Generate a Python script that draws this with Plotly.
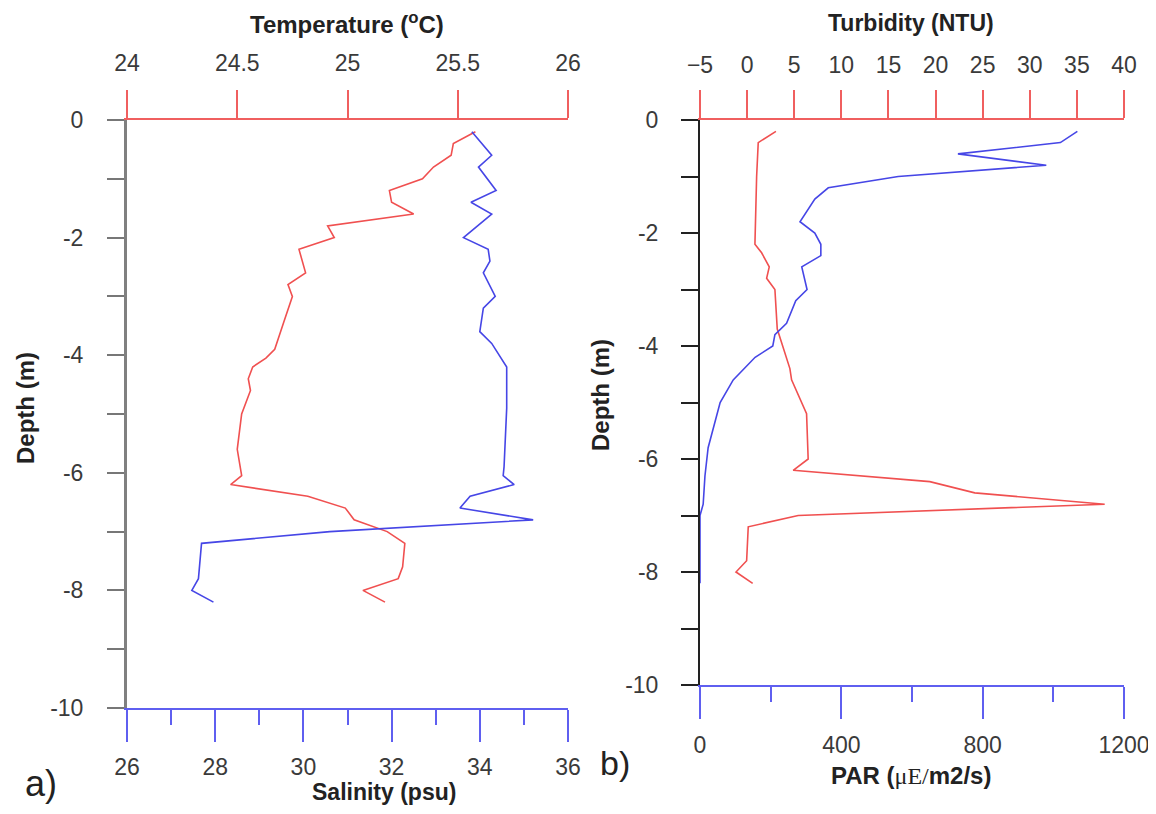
import plotly.graph_objects as go

# page body has an 8px margin; figure placed so that its pixels line up with the window
OFF = 8
W, H = 1156 - OFF, 814 - 2 * OFF

# ---------------- data ----------------
temp_depth = [-0.2, -0.4, -0.6, -0.8, -1.0, -1.2, -1.4, -1.6, -1.8, -2.0, -2.2, -2.6, -2.8, -3.0,
              -3.45, -3.9, -4.05, -4.2, -4.4, -4.6, -5.0, -5.6, -6.05, -6.2, -6.4, -6.6, -6.8,
              -7.0, -7.2, -7.6, -7.8, -8.0, -8.2]
temp_vals = [25.58, 25.48, 25.47, 25.39, 25.34, 25.19, 25.20, 25.30, 24.91, 24.94, 24.78, 24.81,
             24.73, 24.75, 24.71, 24.67, 24.63, 24.57, 24.55, 24.56, 24.52, 24.50, 24.52, 24.47,
             24.82, 24.99, 25.03, 25.18, 25.26, 25.25, 25.23, 25.07, 25.17]

sal_depth = [-0.2, -0.6, -0.8, -1.2, -1.4, -1.6, -2.0, -2.2, -2.4, -2.6, -3.0, -3.2, -3.6, -3.8,
             -4.2, -4.9, -5.9, -6.05, -6.2, -6.4, -6.6, -6.8, -7.0, -7.2, -7.8, -8.0, -8.2]
sal_vals = [33.82, 34.27, 33.97, 34.37, 33.80, 34.27, 33.63, 34.19, 34.23, 34.08, 34.35, 34.08,
            34.00, 34.27, 34.61, 34.61, 34.55, 34.53, 34.78, 33.78, 33.55, 35.21, 30.6, 27.69,
            27.62, 27.47, 27.96]

turb_depth = [-0.2, -0.4, -1.0, -2.2, -2.35, -2.6, -2.8, -3.0, -3.7, -4.4, -4.6, -5.2, -6.0,
              -6.2, -6.4, -6.6, -6.8, -7.0, -7.2, -7.8, -8.0, -8.2]
turb_vals = [3.06, 1.18, 1.01, 0.83, 1.54, 2.35, 2.07, 2.95, 3.20, 4.54, 4.72, 6.31, 6.48,
             4.89, 19.39, 24.16, 37.95, 5.42, 0.12, -0.05, -1.18, 0.59]

par_depth = [-0.2, -0.4, -0.6, -0.8, -1.0, -1.2, -1.4, -1.8, -2.0, -2.2, -2.4, -2.6, -3.0, -3.2,
             -3.6, -3.8, -4.0, -4.2, -4.6, -5.0, -5.8, -6.3, -6.8, -7.0, -8.2]
par_vals = [1068, 1020, 730, 980, 561, 363, 325, 283, 325, 342, 342, 288, 303, 271,
            245, 212, 206, 156, 94, 57, 23, 14, 9, 0, 0]

depth_ticks = list(range(-10, 1))
depth_text = [str(v) if v % 2 == 0 else "" for v in depth_ticks]
temp_ticks = [24, 24.5, 25, 25.5, 26]
sal_ticks = [26, 28, 30, 32, 34, 36]
turb_ticks = [-5, 0, 5, 10, 15, 20, 25, 30, 35, 40]
par_ticks = [0, 400, 800, 1200]

# ---------------- style ----------------
RED = "rgb(240,80,80)"
BLUE = "rgb(70,70,230)"
AXRED = "rgb(240,95,95)"
AXBLUE = "rgb(95,95,240)"
FONT = "Liberation Sans, Arial, sans-serif"
TXT = "#3a3a3a"

def px(x):
    return (x - OFF) / W

def py(y):
    return 1 - (y - OFF) / H

fig = go.Figure()
fig.add_trace(go.Scatter(x=temp_vals, y=temp_depth, mode="lines", line=dict(color=RED, width=1.6),
                         xaxis="x", yaxis="y", showlegend=False))
fig.add_trace(go.Scatter(x=sal_vals, y=sal_depth, mode="lines", line=dict(color=BLUE, width=1.6),
                         xaxis="x2", yaxis="y", showlegend=False))
fig.add_trace(go.Scatter(x=turb_vals, y=turb_depth, mode="lines", line=dict(color=RED, width=1.6),
                         xaxis="x3", yaxis="y2", showlegend=False))
fig.add_trace(go.Scatter(x=par_vals, y=par_depth, mode="lines", line=dict(color=BLUE, width=1.6),
                         xaxis="x4", yaxis="y2", showlegend=False))

tickfont = dict(family=FONT, size=23, color=TXT)

def xax(**kw):
    d = dict(showgrid=False, zeroline=False, showline=True, linewidth=2, ticks="outside",
             tickwidth=2, tickfont=tickfont, fixedrange=True, automargin=False,
             ticklabeloverflow="allow")
    d.update(kw)
    return d

left_dom = [px(127), px(568)]
right_dom = [px(700), px(1124)]

fig.update_layout(
    width=W, height=H, margin=dict(l=0, r=0, t=0, b=0, autoexpand=False),
    plot_bgcolor="white", paper_bgcolor="white",
    xaxis=xax(domain=left_dom, range=[24, 26], side="top", anchor="y", tickvals=temp_ticks,
              ticktext=["24", "24.5", "25", "25.5", "26"], ticklen=28, tickcolor=AXRED,
              linecolor=AXRED, ticklabelstandoff=10),
    xaxis2=xax(domain=left_dom, range=[26, 36], side="bottom", anchor="y", overlaying="x",
               tickvals=sal_ticks, ticklen=32, tickcolor=AXBLUE, linecolor=AXBLUE,
               ticklabelstandoff=5,
               minor=dict(ticks="outside", dtick=1, ticklen=15, tickcolor=AXBLUE, tickwidth=2)),
    yaxis=dict(domain=[py(708), py(120)], range=[-10, 0], anchor="x", tickvals=depth_ticks,
               ticktext=depth_text, ticks="outside", ticklen=17, tickwidth=2,
               tickcolor="#777777", showline=True, linecolor="#808080", linewidth=3,
               showgrid=False, zeroline=False, tickfont=tickfont, ticklabelstandoff=19,
               fixedrange=True, automargin=False),
    xaxis3=xax(domain=right_dom, range=[-5, 40], side="top", anchor="y2", tickvals=turb_ticks,
               ticklen=28, tickcolor=AXRED, linecolor=AXRED, ticklabelstandoff=8),
    xaxis4=xax(domain=right_dom, range=[0, 1200], side="bottom", anchor="y2", overlaying="x3",
               tickvals=par_ticks, ticklen=32, tickcolor=AXBLUE, linecolor=AXBLUE,
               ticklabelstandoff=6,
               minor=dict(ticks="outside", dtick=200, ticklen=15, tickcolor=AXBLUE, tickwidth=2)),
    yaxis2=dict(domain=[py(685), py(120)], range=[-10, 0], anchor="x3", tickvals=depth_ticks,
                ticktext=depth_text, ticks="outside", ticklen=17, tickwidth=2,
                tickcolor="#222222", showline=True, linecolor="#222222", linewidth=2,
                showgrid=False, zeroline=False, tickfont=tickfont, ticklabelstandoff=18,
                fixedrange=True, automargin=False),
)

def tfont(size):
    return dict(family=FONT, size=size, color="#222222")

ann = [
    dict(text="<b>Temperature (<sup>o</sup>C)</b>", x=px(347), y=py(23), font=tfont(24)),
    dict(text="<b>Salinity (psu)</b>", x=px(384), y=py(792), font=tfont(23)),
    dict(text="<b>Turbidity (NTU)</b>", x=px(911), y=py(23), font=tfont(23)),
    dict(text="<b>PAR (</b><span style='font-family:Liberation Serif, Times New Roman, serif'>\u03bcE/</span><b>m2/s)</b>",
         x=px(911), y=py(775), font=tfont(24)),
    dict(text="<b>Depth (m)</b>", x=px(25), y=py(408), textangle=-90, font=tfont(24)),
    dict(text="<b>Depth (m)</b>", x=px(600), y=py(395), textangle=-90, font=tfont(24)),
    dict(text="a)", x=px(41), y=py(783), font=tfont(36)),
    dict(text="b)", x=px(615), y=py(763), font=tfont(34)),
]
for a in ann:
    a.update(xref="paper", yref="paper", showarrow=False, xanchor="center", yanchor="middle")
    fig.add_annotation(**a)

fig.write_html("out.html")
